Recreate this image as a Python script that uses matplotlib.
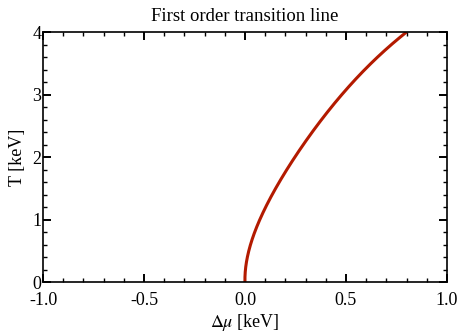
import numpy as np
import matplotlib
matplotlib.use("Agg")
import matplotlib.pyplot as plt
from matplotlib.ticker import MultipleLocator, FormatStrFormatter

# transition line
temperature = [0.0, 0.30, 0.565, 0.885, 1.02, 1.23, 1.42, 1.63, 1.845, 2.27, 2.645, 2.965, 3.23, 3.525, 4.0]
delta_mu = [0.0, 0.008, 0.025, 0.058, 0.077, 0.107, 0.137, 0.178, 0.22, 0.305, 0.388, 0.47, 0.545, 0.635, 0.80]

plt.rcParams['font.family'] = ['Liberation Serif', 'DejaVu Serif']
plt.rcParams['mathtext.fontset'] = 'stix'

# smooth curve through the read points
coef = np.polyfit(temperature, delta_mu, 4)
t_fine = np.linspace(0, 4, 300)
x_fine = np.polyval(coef, t_fine) - np.polyval(coef, 0)

fig = plt.figure(figsize=(4.6, 3.32), dpi=100)
ax = fig.add_axes([0.0935, 0.1506, 0.878, 0.753])

ax.plot(x_fine, t_fine, color='#b31a00', linewidth=2.2, solid_capstyle='butt')

ax.set_xlim(-1, 1)
ax.set_ylim(0, 4)
ax.xaxis.set_major_locator(MultipleLocator(0.5))
ax.xaxis.set_minor_locator(MultipleLocator(0.1))
ax.yaxis.set_major_locator(MultipleLocator(1))
ax.yaxis.set_minor_locator(MultipleLocator(0.2))
ax.xaxis.set_major_formatter(FormatStrFormatter('%.1f'))

ax.tick_params(which='both', direction='in', top=True, right=True, labelsize=13)
ax.tick_params(which='major', length=6, width=1.4)
ax.tick_params(which='minor', length=3, width=1.0)
ax.tick_params(axis='x', pad=7.5)
ax.tick_params(axis='y', pad=1)
for s in ax.spines.values():
    s.set_linewidth(1.2)

ax.set_title('First order transition line', fontsize=13.5, pad=8)
ax.set_xlabel(r'$\Delta\mu$ [keV]', fontsize=13, labelpad=2)
ax.set_ylabel('T [keV]', fontsize=13, labelpad=5)

fig.savefig('out.png', dpi=100)
